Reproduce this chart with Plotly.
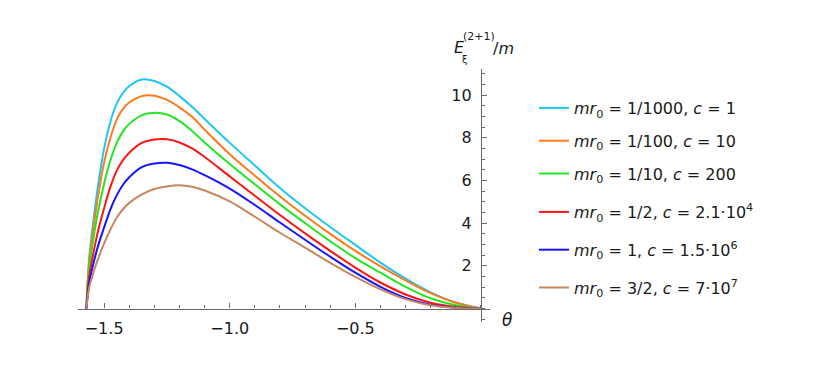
import plotly.graph_objects as go

# ---- data ----
theta = [-1.5708, -1.56, -1.55, -1.525, -1.5, -1.475, -1.45, -1.425, -1.4, -1.35, -1.3, -1.25,
         -1.2, -1.15, -1.1, -1.0, -0.9, -0.8, -0.7, -0.6, -0.5, -0.4, -0.3, -0.2, -0.1, 0.0]

e_1000 = [0, 2.3, 3.4, 5.7, 7.5, 8.75, 9.6, 10.1, 10.42, 10.73, 10.66, 10.39,
          9.95, 9.45, 8.88, 7.76, 6.70, 5.65, 4.70, 3.82, 2.98, 2.15, 1.40, 0.76, 0.28, 0]
e_100 = [0, 2.1, 3.1, 5.2, 6.85, 8.0, 8.85, 9.35, 9.65, 9.95, 9.97, 9.77,
         9.42, 8.98, 8.38, 7.23, 6.22, 5.25, 4.35, 3.50, 2.70, 1.98, 1.32, 0.72, 0.27, 0]
e_10 = [0, 1.8, 2.7, 4.5, 5.85, 6.95, 7.75, 8.3, 8.65, 9.06, 9.17, 9.09,
        8.78, 8.32, 7.78, 6.77, 5.82, 4.88, 4.00, 3.15, 2.36, 1.68, 1.02, 0.48, 0.15, 0]
e_2 = [0, 1.45, 2.15, 3.6, 4.7, 5.7, 6.45, 6.95, 7.3, 7.76, 7.92, 7.93,
       7.78, 7.50, 7.10, 6.19, 5.28, 4.38, 3.52, 2.70, 1.92, 1.22, 0.66, 0.27, 0.07, 0]
e_1 = [0, 1.15, 1.75, 2.9, 3.8, 4.65, 5.3, 5.8, 6.15, 6.62, 6.79, 6.83,
       6.72, 6.52, 6.25, 5.62, 4.85, 4.03, 3.22, 2.43, 1.68, 1.02, 0.50, 0.18, 0.04, 0]
e_32 = [0, 0.95, 1.4, 2.3, 3.05, 3.7, 4.25, 4.65, 4.95, 5.35, 5.6, 5.72,
        5.77, 5.70, 5.53, 5.02, 4.30, 3.55, 2.85, 2.14, 1.48, 0.90, 0.44, 0.15, 0.03, 0]

series_names = [
    "<i>mr</i><sub>0</sub> = 1/1000, <i>c</i> = 1",
    "<i>mr</i><sub>0</sub> = 1/100, <i>c</i> = 10",
    "<i>mr</i><sub>0</sub> = 1/10, <i>c</i> = 200",
    "<i>mr</i><sub>0</sub> = 1/2, <i>c</i> = 2.1·10<sup>4</sup>",
    "<i>mr</i><sub>0</sub> = 1, <i>c</i> = 1.5·10<sup>6</sup>",
    "<i>mr</i><sub>0</sub> = 3/2, <i>c</i> = 7·10<sup>7</sup>",
]
series_values = [e_1000, e_100, e_10, e_2, e_1, e_32]
colors = ["#1ec6f2", "#ff7a1c", "#22e622", "#ff1414", "#1414ff", "#c88660"]
legend_ids = ["legend", "legend", "legend", "legend2", "legend2", "legend2"]

x_ticks = [-1.5, -1.0, -0.5]
x_ticktext = ["\u22121.5", "\u22121.0", "\u22120.5"]
y_ticks = [2, 4, 6, 8, 10]

# ---- layout geometry (target pixel positions; page body has an 8px margin) ----
O = 8
FW, FH = 837 - O, 372 - O
L, T, W, H = 78 - O, 69 - O, 412, 253
xr = [-1.604, 0.036]
yr = [-0.63, 11.22]


def px(xp):
    return (xp - O - L) / W


def py(yp):
    return 1 - (yp - O - T) / H


fig = go.Figure()
for name, ys, col, lg in zip(series_names, series_values, colors, legend_ids):
    fig.add_trace(go.Scatter(
        x=theta, y=ys, mode="lines", name=name, legendgroup=name, legend=lg,
        line=dict(color=col, width=2, shape="spline", smoothing=1.0),
    ))

axis_col = "#6a6a6a"
font_fam = "DejaVu Sans, Verdana, sans-serif"
txt_col = "#1a1a1a"

leg_common = dict(xanchor="left", yanchor="top", itemwidth=30,
                  font=dict(size=16, family=font_fam, color=txt_col),
                  bgcolor="rgba(0,0,0,0)")

fig.update_layout(
    width=FW, height=FH,
    margin=dict(l=L, r=FW - L - W, t=T, b=FH - T - H, pad=0, autoexpand=False),
    plot_bgcolor="white", paper_bgcolor="white",
    font=dict(family=font_fam, size=16, color=txt_col),
    showlegend=True,
    legend=dict(x=px(534), y=py(91), tracegroupgap=9, **leg_common),
    legend2=dict(x=px(534), y=py(195), tracegroupgap=14, **leg_common),
)

fig.update_xaxes(
    range=xr, showgrid=False, zeroline=False, showline=True,
    linecolor=axis_col, linewidth=1.2,
    anchor="free", position=(0 - yr[0]) / (yr[1] - yr[0]),
    tickmode="array", tickvals=x_ticks, ticktext=x_ticktext,
    ticks="inside", ticklen=5, tickwidth=1, tickcolor=axis_col,
    ticklabelstandoff=5,
    tickfont=dict(size=16, color=txt_col, family=font_fam),
    minor=dict(tickmode="linear", tick0=0, dtick=0.1, ticks="inside",
               ticklen=3, tickcolor=axis_col, tickwidth=1),
)
fig.update_yaxes(
    range=yr, showgrid=False, zeroline=False, showline=True,
    linecolor=axis_col, linewidth=1.2,
    anchor="free", position=(0 - xr[0]) / (xr[1] - xr[0]), side="left",
    tickmode="array", tickvals=y_ticks,
    ticks="inside", ticklen=5, tickwidth=1, tickcolor=axis_col,
    ticklabelstandoff=6,
    tickfont=dict(size=16, color=txt_col, family=font_fam),
    minor=dict(tickmode="linear", tick0=0, dtick=0.5, ticks="inside",
               ticklen=3, tickcolor=axis_col, tickwidth=1),
)


def note(x, y, text, size):
    fig.add_annotation(x=px(x), y=py(y), text=text, xref="paper", yref="paper",
                       xanchor="center", yanchor="middle", showarrow=False,
                       font=dict(size=size, family=font_fam, color=txt_col))


note(459, 47, "<i>E</i>", 16)
note(465, 59, "ξ", 10)
note(479, 36, "(2+1)", 11)
note(503, 48, "/<i>m</i>", 16)
note(507, 320, "<i>θ</i>", 17)

fig.write_html("out.html")
